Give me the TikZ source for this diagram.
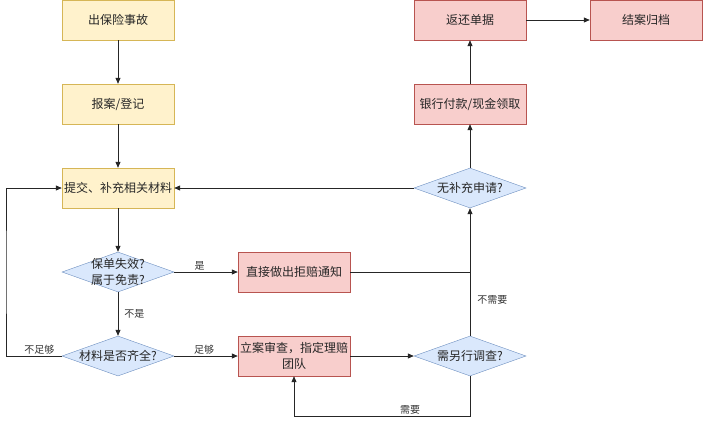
\documentclass[tikz,border=0pt]{standalone}
\usepackage{fontspec}
\setmainfont{Noto Sans CJK SC}
\usetikzlibrary{arrows.meta,shapes.geometric}
\definecolor{yfill}{HTML}{FFF2CC}
\definecolor{ydraw}{HTML}{D6B656}
\definecolor{rfill}{HTML}{F8CECC}
\definecolor{rdraw}{HTML}{B85450}
\definecolor{bfill}{HTML}{DAE8FC}
\definecolor{bdraw}{HTML}{6C8EBF}
\tikzset{
  box/.style={rectangle,minimum width=112pt,minimum height=40pt,inner sep=1pt,align=center,
    text=black!85,font=\fontsize{12}{16}\selectfont},
  yellowbox/.style={box,draw=ydraw,fill=yfill},
  redbox/.style={box,draw=rdraw,fill=rfill},
  decision/.style={diamond,draw=bdraw,fill=bfill,minimum width=112pt,minimum height=40pt,
    inner sep=-30pt,align=center,text=black!85,font=\fontsize{12}{16}\selectfont},
  flow/.style={draw=black!85,line width=0.8pt,-{Triangle[length=6pt,width=5pt]}},
  tag/.style={text=black!80,inner sep=1pt,font=\fontsize{10}{12}\selectfont}
}
\begin{document}
\begin{tikzpicture}[x=1pt,y=-1pt]
        \useasboundingbox (0,0) rectangle (703,423);
        \node[yellowbox] (accident) at (118,20) {出保险事故};
        \node[yellowbox] (report) at (118,104) {报案/登记};
        \node[yellowbox] (submit) at (118,188) {提交、补充相关材料};
        \node[decision] (invalid) at (118,272) {保单失效?\\属于免责?};
        \node[decision] (complete) at (118,356) {材料是否齐全?};
        \node[redbox] (reject) at (294,272) {直接做出拒赔通知};
        \node[redbox] (review) at (294,356) {立案审查，指定理赔\\团队};
        \node[decision] (survey) at (470,356) {需另行调查?};
        \node[decision] (extra) at (470,188) {无补充申请?};
        \node[redbox] (pay) at (470,104) {银行付款/现金领取};
        \node[redbox] (returndoc) at (470,20) {返还单据};
        \node[redbox] (archive) at (646,20) {结案归档};
        \coordinate (leftloop) at (6,272);
        \coordinate (bottomloop) at (294,416);
        \coordinate (join) at (470,272);
        \draw[flow] (accident) -- (report);
        \draw[flow] (report) -- (submit);
        \draw[flow] (submit) -- (invalid);
        \draw[flow] (invalid) -- node[tag,above,pos=0.4]{是} (reject);
        \draw[flow] (invalid) -- node[tag,right=5pt,midway]{不是} (complete);
        \draw[flow] (complete) -- node[tag,above,pos=0.47]{足够} (review);
        \draw[flow] (complete.west) -| node[tag,above,pos=0.2]{不足够} (leftloop) |- (submit.west);
        \draw[flow] (review) -- (survey);
        \draw[flow] (survey.south) |- node[tag,above,pos=0.67]{需要} (bottomloop) -| (review.south);
        \draw[flow] (survey) -- node[tag,right=6pt,pos=0.28]{不需要} (extra);
        \draw[draw=black!85,line width=0.8pt] (reject.east) -- (join);
        \draw[flow] (extra) -- (submit);
        \draw[flow] (extra) -- (pay);
        \draw[flow] (pay) -- (returndoc);
        \draw[flow] (returndoc) -- (archive);
\end{tikzpicture}
\end{document}
